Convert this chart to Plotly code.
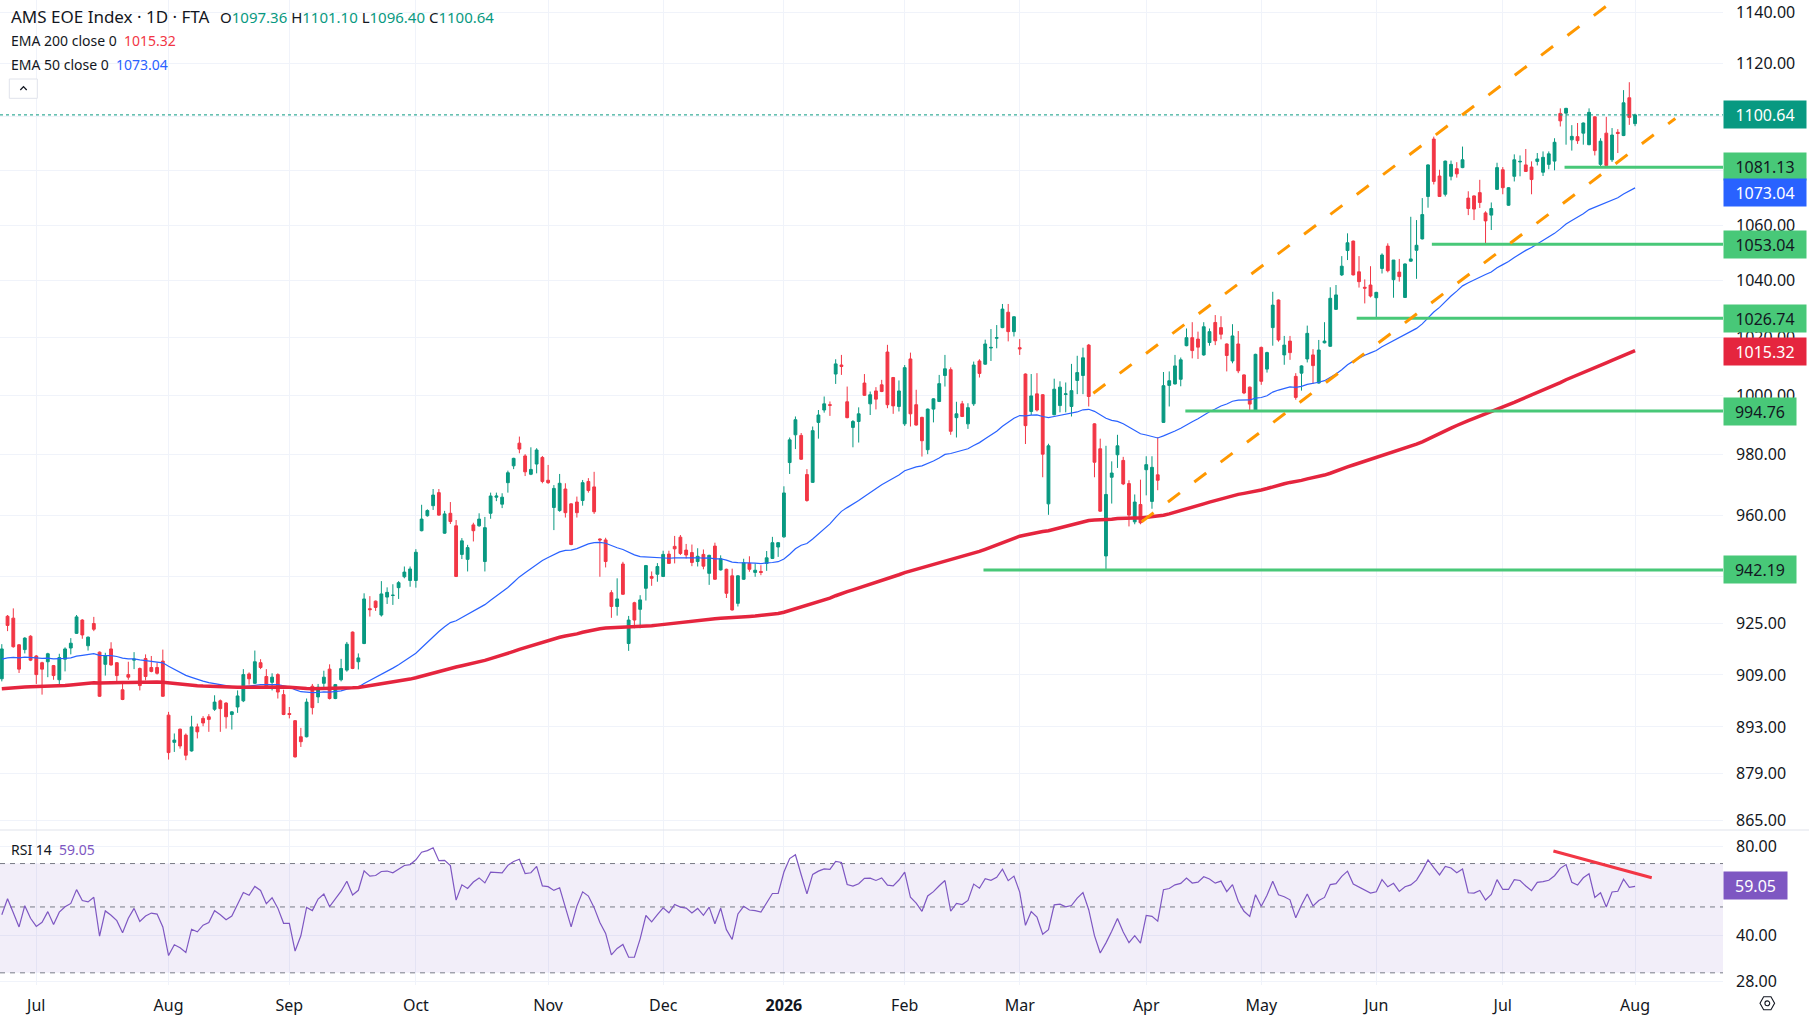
import math
import pandas as pd
import plotly.graph_objects as go

# ---------------------------------------------------------------- data
HOLIDAYS = ["2025-12-25", "2025-12-26", "2026-01-01", "2026-04-03", "2026-04-06", "2026-05-01"]
trading_days = [d for d in pd.bdate_range("2025-06-23", "2026-08-03")
                if d.strftime("%Y-%m-%d") not in HOLIDAYS]
dates = [d.strftime("%Y-%m-%d") + " 12:00" for d in trading_days]

opens = [
    907.8, 927.4, 926.8, 918.4, 916.9, 921.1, 914.9, 912.8, 913.1, 911.9,
    907.5, 913.9, 917.4, 922.0, 926.2, 918.1, 925.1, 916.1, 912.3, 917.1,
    912.8, 904.4, 909.1, 913.6, 911.0, 914.1, 911.3, 911.3, 913.3, 896.6,
    888.3, 892.3, 890.5, 885.7, 893.0, 895.6, 896.1, 898.4, 901.0, 900.3,
    896.8, 899.1, 901.0, 909.3, 906.4, 912.8, 908.5, 906.7, 909.1, 902.9,
    897.1, 894.9, 890.0, 890.0, 905.5, 902.2, 906.4, 910.8, 901.7, 907.5,
    910.5, 922.4, 913.1,
    918.8, 929.8, 932.2, 927.8, 933.5, 934.0, 936.5, 940.0, 938.8, 938.8,
    954.9, 959.8, 963.1, 967.4, 954.1, 960.6, 956.5, 947.2, 945.6, 956.8,
    956.5, 944.9, 960.6, 965.9, 963.6, 970.7, 976.3, 983.9, 979.6, 973.5,
    976.9, 979.1, 971.5, 962.5, 961.5, 968.6, 963.7, 964.3, 964.8, 971.1,
    969.3, 952.2, 951.9, 934.9, 930.5, 944.1, 918.8, 931.7, 929.6, 936.3,
    940.1, 940.8, 940.1, 947.3, 949.8, 952.8, 948.6, 947.8, 944.9,
    947.2, 941.1, 949.9, 942.2, 942.4, 940.3, 931.5, 939.2, 944.3, 941.4,
    941.7, 944.3, 945.9, 949.6, 952.9, 977.4, 986.7, 986.5, 973.4, 970.8,
    990.9, 995.1, 996.9, 1007.4, 1010.5, 997.9, 989.2, 991.2, 1004.3, 997.2,
    1001.6, 1003.7, 1015.0, 1006.2, 996.3, 990.4, 1012.6, 996.9, 992.6, 981.7,
    995.4, 998.0, 1006.9, 1008.9, 992.5, 997.2, 990.4, 997.2, 1011.9, 1010.8,
    1016.4, 1019.8, 1023.5, 1028.9, 1022.1, 1016.5, 1007.4, 994.6, 1000.6, 1000.3,
    963.7,
    993.5, 996.6, 1000.4, 996.3, 1005.2, 1006.9, 1017.4, 990.4, 982.0, 946.7,
    972.5, 980.0, 978.1, 970.4, 957.8, 963.5, 975.0, 964.5, 973.3, 990.9,
    1003.5, 1004.0, 1005.6, 1017.2, 1020.0, 1019.5, 1014.0, 1018.3, 1025.3, 1023.5,
    1017.8, 1011.9, 1017.8, 1007.1, 1002.9, 995.1, 1016.6, 1009.1, 1023.5, 1033.2,
    1014.0, 1018.8, 1006.6, 1007.7, 1012.6, 1014.0, 1004.3, 1018.2, 1017.0, 1029.9,
    1042.1, 1050.8, 1054.2, 1043.2, 1037.7, 1038.5, 1034.0, 1044.4, 1052.4, 1040.4,
    1043.1,
    1034.1, 1047.0, 1050.9, 1055.0, 1070.4, 1091.6, 1077.9, 1071.2, 1077.8, 1080.6,
    1081.0, 1069.8, 1070.6, 1071.8, 1064.4, 1063.6, 1073.0, 1080.2, 1067.2, 1077.8,
    1083.1, 1082.0, 1081.2, 1083.3, 1079.3, 1082.2, 1083.4, 1101.2, 1101.3, 1091.3,
    1092.5, 1093.8, 1089.5, 1099.9, 1082.2, 1093.8, 1083.9, 1094.1, 1092.9, 1107.1,
    1097.36,
]
highs = [
    918.6, 927.8, 929.9, 918.6, 920.8, 921.4, 915.2, 913.1, 915.9, 912.1,
    915.6, 917.6, 920.5, 927.8, 926.5, 921.0, 927.2, 916.3, 915.9, 919.2,
    913.0, 906.2, 913.1, 916.1, 911.3, 915.4, 914.9, 912.8, 916.9, 897.6,
    891.0, 892.5, 891.0, 896.4, 894.0, 896.3, 896.9, 902.7, 901.4, 900.6,
    897.8, 904.2, 910.8, 909.8, 916.6, 913.9, 910.8, 909.5, 909.5, 904.4,
    899.1, 895.1, 892.7, 901.7, 906.2, 906.2, 910.3, 912.3, 906.2, 914.0,
    919.3, 922.6, 915.7,
    934.7, 933.8, 932.4, 938.6, 936.6, 937.6, 938.6, 943.3, 943.3, 948.9,
    963.4, 961.9, 968.6, 968.6, 961.4, 964.3, 958.4, 952.5, 950.3, 957.5,
    960.6, 959.4, 967.4, 967.4, 967.2, 974.7, 979.0, 986.1, 980.2, 982.5,
    982.2, 979.6, 976.6, 969.9, 973.6, 970.5, 963.9, 966.1, 971.6, 972.2,
    974.3, 952.4, 952.6, 935.7, 939.5, 944.8, 927.5, 932.0, 934.1, 943.8,
    941.7, 944.4, 948.4, 948.4, 953.2, 953.5, 950.6, 950.4, 949.2,
    948.8, 947.1, 951.0, 946.9, 942.6, 942.6, 940.5, 945.8, 946.6, 944.3,
    943.7, 948.3, 952.9, 951.2, 969.5, 985.8, 992.9, 987.3, 975.2, 989.5,
    995.1, 999.7, 998.0, 1012.5, 1014.0, 1003.1, 991.7, 996.0, 1007.4, 1001.4,
    1002.9, 1005.4, 1017.5, 1006.4, 1005.2, 1010.5, 1014.8, 1002.0, 992.8, 995.6,
    999.1, 1007.1, 1014.0, 1009.7, 997.9, 998.2, 997.4, 1011.7, 1012.5, 1019.3,
    1023.0, 1024.4, 1031.8, 1031.8, 1027.5, 1019.5, 1007.6, 1007.4, 1007.7, 1000.5,
    983.7,
    1005.8, 1004.9, 1004.5, 1010.9, 1013.7, 1016.5, 1017.8, 990.6, 985.4, 983.0,
    977.8, 986.7, 979.3, 971.5, 966.8, 971.7, 979.5, 979.5, 985.9, 1008.1,
    1008.3, 1014.0, 1013.1, 1023.2, 1025.4, 1022.1, 1025.4, 1023.2, 1027.9, 1027.5,
    1018.0, 1024.7, 1022.3, 1007.3, 1003.1, 1014.4, 1016.9, 1015.1, 1036.1, 1033.4,
    1020.6, 1020.6, 1007.7, 1010.4, 1024.2, 1016.0, 1019.2, 1025.4, 1037.7, 1038.5,
    1048.8, 1057.0, 1054.4, 1048.8, 1040.5, 1045.2, 1036.1, 1049.8, 1053.4, 1047.4,
    1047.8,
    1046.2, 1063.0, 1061.8, 1069.8, 1082.2, 1092.5, 1080.2, 1083.6, 1083.6, 1083.0,
    1088.8, 1072.3, 1070.8, 1076.5, 1065.0, 1068.2, 1082.8, 1081.2, 1073.8, 1085.9,
    1085.5, 1087.9, 1083.3, 1086.4, 1087.0, 1087.0, 1091.9, 1103.1, 1103.3, 1096.8,
    1097.6, 1097.8, 1103.1, 1100.1, 1091.9, 1099.9, 1095.7, 1095.3, 1110.0, 1113.0,
    1101.10,
]
lows = [
    907.0, 922.7, 917.5, 909.6, 915.7, 913.3, 906.2, 902.9, 908.3, 907.5,
    905.4, 910.1, 915.4, 921.8, 920.3, 916.6, 922.7, 902.2, 908.8, 911.9,
    906.7, 901.2, 907.5, 910.8, 904.2, 907.3, 909.8, 909.1, 902.2, 883.1,
    885.4, 886.4, 882.9, 885.5, 889.5, 893.2, 891.5, 897.9, 891.5, 892.5,
    892.2, 897.3, 900.6, 906.0, 906.2, 910.8, 905.2, 904.2, 901.7, 896.6,
    895.6, 883.7, 886.9, 889.8, 896.8, 900.3, 905.2, 901.4, 901.5, 907.0,
    910.0, 910.8, 910.7,
    918.6, 927.3, 929.1, 927.3, 931.3, 931.0, 932.9, 939.5, 936.8, 936.5,
    954.7, 959.5, 961.7, 959.8, 953.9, 957.1, 939.9, 945.7, 941.7, 951.4,
    956.2, 941.7, 958.8, 964.6, 962.3, 967.4, 975.2, 980.5, 972.9, 973.2,
    973.8, 970.5, 970.3, 955.1, 961.1, 959.2, 950.2, 959.2, 963.1, 967.4,
    960.4, 940.0, 943.0, 926.9, 927.6, 934.2, 916.5, 923.6, 923.6, 932.4,
    937.1, 938.4, 939.9, 944.1, 944.3, 947.0, 945.9, 943.4, 943.3,
    942.4, 937.4, 939.0, 942.0, 933.2, 929.2, 930.5, 939.0, 941.6, 940.0,
    940.5, 941.9, 945.7, 946.4, 952.6, 973.6, 981.9, 978.3, 964.4, 970.6,
    985.4, 994.2, 993.1, 1004.0, 1007.1, 992.3, 982.5, 984.1, 999.9, 993.4,
    995.3, 1001.2, 995.7, 993.8, 994.6, 989.7, 989.5, 989.8, 979.4, 980.2,
    990.9, 997.8, 1003.1, 986.7, 985.8, 992.7, 988.7, 996.5, 1006.2, 1010.6,
    1011.9, 1016.3, 1023.3, 1018.7, 1020.4, 1014.0, 983.6, 993.4, 994.6, 972.5,
    960.1,
    993.3, 994.3, 994.3, 992.9, 1000.5, 1000.5, 996.3, 972.5, 961.1, 942.19,
    963.8, 975.6, 969.9, 956.3, 957.0, 957.0, 966.5, 962.1, 968.2, 990.7,
    996.3, 1003.8, 1003.2, 1017.0, 1012.8, 1012.6, 1013.7, 1017.2, 1017.4, 1019.4,
    1008.3, 1011.1, 1007.7, 1000.5, 995.1, 994.76, 1003.7, 1007.9, 1017.2, 1018.6,
    1010.6, 1012.3, 998.6, 1001.7, 1011.4, 1004.0, 1004.1, 1018.0, 1016.8, 1029.7,
    1041.7, 1047.4, 1041.9, 1037.6, 1032.0, 1034.1, 1026.74, 1042.6, 1043.0, 1034.0,
    1039.7,
    1033.9, 1046.8, 1040.7, 1054.8, 1066.3, 1074.8, 1070.2, 1070.4, 1076.3, 1077.3,
    1080.8, 1063.6, 1061.8, 1066.2, 1053.04, 1058.2, 1072.8, 1071.2, 1067.0, 1075.9,
    1077.8, 1079.4, 1071.2, 1081.8, 1077.9, 1080.4, 1080.0, 1096.3, 1089.5, 1087.3,
    1089.8, 1089.5, 1089.3, 1085.5, 1081.3, 1081.13, 1083.1, 1086.4, 1092.7, 1096.9,
    1096.40,
]
closes = [
    917.1, 924.5, 917.8, 910.8, 920.5, 913.6, 909.1, 910.8, 915.6, 908.8,
    914.4, 917.1, 918.9, 927.2, 921.5, 920.8, 923.3, 902.4, 914.9, 912.1,
    908.8, 901.4, 908.3, 913.9, 905.7, 908.5, 910.1, 909.5, 902.4, 885.2,
    889.0, 887.2, 884.4, 893.0, 891.5, 894.2, 895.3, 900.6, 898.6, 896.1,
    897.6, 902.5, 909.1, 907.8, 913.1, 911.3, 905.4, 908.3, 903.7, 896.8,
    896.8, 883.9, 888.5, 900.6, 898.9, 905.2, 908.3, 901.7, 906.0, 911.0,
    918.6, 911.0, 914.3,
    932.9, 929.5, 930.2, 934.5, 935.0, 934.1, 938.1, 941.5, 942.5, 947.9,
    958.7, 961.5, 966.6, 960.0, 960.4, 957.9, 940.1, 951.6, 949.4, 954.9,
    958.7, 955.9, 966.3, 966.3, 965.9, 974.0, 978.8, 981.9, 974.3, 975.1,
    981.6, 971.1, 970.7, 968.8, 970.5, 960.8, 950.4, 960.8, 970.7, 968.1,
    961.1, 951.9, 944.9, 930.5, 932.9, 934.4, 926.2, 926.2, 932.6, 943.6,
    939.5, 943.3, 947.2, 944.3, 949.0, 947.5, 947.0, 944.6, 946.6,
    943.4, 946.9, 939.2, 945.8, 934.7, 929.4, 940.3, 944.5, 942.4, 942.1,
    941.4, 946.1, 951.0, 951.0, 967.3, 985.0, 991.8, 978.5, 964.8, 988.1,
    993.4, 997.2, 996.7, 1010.9, 1010.0, 992.5, 991.2, 993.8, 1000.1, 1000.3,
    998.8, 1001.4, 996.9, 996.5, 1001.6, 1009.6, 993.8, 990.0, 984.7, 995.4,
    998.9, 1004.1, 1009.2, 987.9, 993.8, 992.9, 995.9, 1010.5, 1007.6, 1017.8,
    1016.6, 1020.0, 1030.0, 1022.1, 1027.3, 1016.1, 989.8, 999.9, 995.1, 980.2,
    983.0,
    1002.2, 1002.9, 1000.6, 1001.7, 1007.9, 1013.0, 999.7, 977.5, 961.3, 966.8,
    973.9, 983.0, 970.3, 960.0, 964.3, 957.5, 976.7, 975.8, 971.5, 1003.4,
    1005.1, 1010.2, 1012.3, 1020.0, 1015.5, 1016.7, 1023.8, 1022.1, 1018.9, 1021.2,
    1013.8, 1020.6, 1008.5, 1000.9, 997.1, 1014.2, 1004.9, 1014.8, 1031.4, 1019.2,
    1017.4, 1014.8, 999.4, 1010.2, 1021.5, 1010.3, 1015.7, 1018.8, 1033.8, 1035.0,
    1045.2, 1053.6, 1042.1, 1039.7, 1037.4, 1034.6, 1035.9, 1049.2, 1043.6, 1047.4,
    1041.5,
    1046.0, 1047.8, 1052.7, 1063.8, 1082.0, 1075.9, 1070.4, 1083.4, 1082.2, 1078.7,
    1083.9, 1066.0, 1065.8, 1068.2, 1061.5, 1066.0, 1081.0, 1073.6, 1073.6, 1083.9,
    1083.3, 1079.6, 1076.6, 1084.2, 1084.8, 1086.1, 1090.4, 1098.4, 1103.1, 1092.6,
    1091.0, 1097.6, 1101.6, 1087.3, 1090.8, 1081.8, 1093.1, 1093.7, 1105.2, 1099.7,
    1100.64,
]

# indicator state at the first visible bar
EMA200_START = 904.7
EMA50_START = 913.9
RSI_AVG_GAIN_START = 2.0
RSI_AVG_LOSS_START = 2.25

# values printed on the chart
LAST = dict(o=1097.36, h=1101.10, l=1096.40, c=1100.64)
EMA200_LAST = 1015.32
EMA50_LAST = 1073.04
RSI_LAST = 59.05

# horizontal support drawings: level and start time
support_levels = [1081.13, 1053.04, 1026.74, 994.76, 942.19]
support_starts = ["2026-07-16 05:45", "2026-06-15 04:00", "2026-05-27 02:24",
                  "2026-04-14 07:12", "2026-02-20 04:48"]
# channel trend lines (two anchor points each)
channel_upper_x = ["2026-03-19 07:12", "2026-07-27 12:00"]
channel_upper_y = [1000.8, 1142.3]
channel_lower_x = ["2026-03-31 16:48", "2026-08-12 12:00"]
channel_lower_y = [957.8, 1099.3]
# RSI divergence line
rsi_trend_x = ["2026-07-14 07:12", "2026-08-06 09:36"]
rsi_trend_y = [77.2, 62.7]

month_tick_dates = ["2025-07-01", "2025-08-01", "2025-09-01", "2025-10-01", "2025-11-03",
                    "2025-12-01", "2026-01-02", "2026-02-02", "2026-03-02", "2026-04-01",
                    "2026-05-04", "2026-06-01", "2026-07-01", "2026-08-03"]
month_tick_labels = ["Jul", "Aug", "Sep", "Oct", "Nov", "Dec", "<b>2026</b>", "Feb", "Mar",
                     "Apr", "May", "Jun", "Jul", "Aug"]
price_ticks = [865, 879, 893, 909, 925, 940, 960, 980, 1000, 1020, 1040, 1060, 1080, 1100, 1120, 1140]
price_ticks_hidden = [940, 1080, 1100]   # fully covered by price tags in the reference
rsi_ticks = [28, 40, 80]
rsi_levels = [70, 50, 30]

# ---------------------------------------------------------------- indicators
highs = [max(h, o, c) for h, o, c in zip(highs, opens, closes)]
lows = [min(l, o, c) for l, o, c in zip(lows, opens, closes)]


def ema(vals, n, start):
    a = 2.0 / (n + 1)
    out = [start]
    for v in vals[1:]:
        out.append(a * v + (1 - a) * out[-1])
    return out


ema200 = ema(closes, 200, EMA200_START)
ema50 = ema(closes, 50, EMA50_START)

ag, al = RSI_AVG_GAIN_START, RSI_AVG_LOSS_START
rsi = [100 - 100 / (1 + ag / al)]
for i in range(1, len(closes)):
    ch = closes[i] - closes[i - 1]
    ag = (ag * 13 + max(ch, 0)) / 14
    al = (al * 13 + max(-ch, 0)) / 14
    rsi.append(100 - 100 / (1 + ag / al))

# ---------------------------------------------------------------- style
UP = "#089981"
DOWN = "#F23645"
EMA200_C = "#E5253E"
EMA50_C = "#2962FF"
GREEN = "#48C878"
ORANGE = "#FF9800"
PURPLE = "#7E57C2"
GRID = "#F0F3FA"
TXT = "#131722"
FONT = "Noto Sans"

W, H = 1809, 1027
PW, PH = 1723, 985          # plot area in pixels
SPLIT = 830                 # pane separator (pixels from top)
X_START, X_END = "2025-06-23 04:30", "2026-08-24 19:00"
X_FAR = "2026-08-31 12:00"


def px(x):
    return x / PW


def py(y):
    return 1 - y / PH


fig = go.Figure()

# RSI pane
fig.add_trace(go.Scatter(x=[X_START, X_END, X_END, X_START, X_START], y=[30, 30, 70, 70, 30],
                         fill="toself", fillcolor="rgba(126,87,194,0.1)", mode="lines",
                         line=dict(width=0, color="rgba(0,0,0,0)"), yaxis="y2", hoverinfo="skip"))
for lv in rsi_levels:
    fig.add_trace(go.Scatter(x=[X_START, X_END], y=[lv, lv], mode="lines", yaxis="y2",
                             line=dict(color="#787B86", width=1, dash="5px,5px"), hoverinfo="skip"))
fig.add_trace(go.Scatter(x=dates, y=rsi, mode="lines", yaxis="y2",
                         line=dict(color=PURPLE, width=1.2)))
fig.add_trace(go.Scatter(x=rsi_trend_x, y=rsi_trend_y, mode="lines", yaxis="y2",
                         line=dict(color=DOWN, width=3)))

# price pane
fig.add_trace(go.Candlestick(x=dates, open=opens, high=highs, low=lows, close=closes,
                             increasing=dict(line=dict(color=UP, width=1), fillcolor=UP),
                             decreasing=dict(line=dict(color=DOWN, width=1), fillcolor=DOWN),
                             whiskerwidth=0, yaxis="y"))
fig.add_trace(go.Scatter(x=dates, y=ema50, mode="lines", line=dict(color=EMA50_C, width=1.2), yaxis="y"))
fig.add_trace(go.Scatter(x=dates, y=ema200, mode="lines", line=dict(color=EMA200_C, width=3.5), yaxis="y"))
fig.add_trace(go.Scatter(x=[X_START, X_FAR], y=[LAST["c"], LAST["c"]], mode="lines",
                         line=dict(color=UP, width=1, dash="dot"), yaxis="y"))
for lv, st in zip(support_levels, support_starts):
    fig.add_trace(go.Scatter(x=[st, X_FAR], y=[lv, lv], mode="lines",
                             line=dict(color=GREEN, width=3), yaxis="y"))
for xs, ys in ((channel_upper_x, channel_upper_y), (channel_lower_x, channel_lower_y)):
    fig.add_trace(go.Scatter(x=xs, y=ys, mode="lines",
                             line=dict(color=ORANGE, width=3, dash="15px,18px"), yaxis="y"))

# ---------------------------------------------------------------- annotations
ann = []
ann.append(dict(xref="paper", yref="paper", x=px(9), y=py(17), xanchor="left", yanchor="middle",
                text="AMS EOE Index · 1D · FTA", showarrow=False, font=dict(size=17, color=TXT)))
ann.append(dict(xref="paper", yref="paper", x=px(218), y=py(17), xanchor="left", yanchor="middle",
                text=("O<span style='color:%s'>%.2f</span> H<span style='color:%s'>%.2f</span> "
                      "L<span style='color:%s'>%.2f</span> C<span style='color:%s'>%.2f</span>")
                % (UP, LAST["o"], UP, LAST["h"], UP, LAST["l"], UP, LAST["c"]),
                showarrow=False, font=dict(size=15, color=TXT)))
ann.append(dict(xref="paper", yref="paper", x=px(9), y=py(41), xanchor="left", yanchor="middle",
                text="EMA 200 close 0&nbsp;&nbsp;<span style='color:%s'>%.2f</span>" % (DOWN, EMA200_LAST),
                showarrow=False, font=dict(size=14, color=TXT)))
ann.append(dict(xref="paper", yref="paper", x=px(9), y=py(64), xanchor="left", yanchor="middle",
                text="EMA 50 close 0&nbsp;&nbsp;<span style='color:%s'>%.2f</span>" % (EMA50_C, EMA50_LAST),
                showarrow=False, font=dict(size=14, color=TXT)))
ann.append(dict(xref="paper", yref="paper", x=px(9), y=py(849), xanchor="left", yanchor="middle",
                text="RSI 14&nbsp;&nbsp;<span style='color:%s'>%.2f</span>" % (PURPLE, RSI_LAST),
                showarrow=False, font=dict(size=14, color=TXT)))

tags = [
    (LAST["c"], UP, "white", 0, 76, "y"),
    (support_levels[0], GREEN, TXT, 1, 76, "y"),
    (EMA50_LAST, EMA50_C, "white", -3, 76, "y"),
    (support_levels[1], GREEN, TXT, 0, 76, "y"),
    (support_levels[2], GREEN, TXT, 0, 76, "y"),
    (EMA200_LAST, EMA200_C, "white", 0, 76, "y"),
    (support_levels[3], GREEN, TXT, 0, 66, "y"),
    (support_levels[4], GREEN, TXT, 0, 66, "y"),
    (RSI_LAST, PURPLE, "white", 0, 57, "y2"),
]
for val, bg, fg, ys, w, yr in tags:
    ann.append(dict(xref="paper", yref=yr, x=1.0, y=math.log10(val), xanchor="left", yanchor="middle",
                    text="%.2f" % val, showarrow=False, bgcolor=bg, width=w, height=21, borderpad=3,
                    align="center", yshift=ys, font=dict(size=16, color=fg)))

# ---------------------------------------------------------------- decorative shapes
shapes = [
    dict(type="line", xref="paper", yref="paper", x0=0, x1=px(W), y0=py(SPLIT), y1=py(SPLIT),
         line=dict(color="#E0E3EB", width=1)),
    dict(type="rect", xref="paper", yref="paper", x0=px(9.3), x1=px(37.3), y0=py(98.3), y1=py(79),
         line=dict(color="#E0E3EB", width=1), fillcolor="white"),
    dict(type="path", xref="paper", yref="paper",
         path="M %f %f L %f %f L %f %f" % (px(20.3), py(90), px(23.5), py(86.6), px(26.7), py(90)),
         line=dict(color=TXT, width=1.3)),
]
cx, cy, hw, hh = 1767.3, 1003.3, 7.3, 6.5
hexpts = [(cx - hw, cy), (cx - hw / 2, cy - hh), (cx + hw / 2, cy - hh), (cx + hw, cy),
          (cx + hw / 2, cy + hh), (cx - hw / 2, cy + hh)]
shapes.append(dict(type="path", xref="paper", yref="paper",
                   path="M " + " L ".join("%f %f" % (px(a), py(b)) for a, b in hexpts) + " Z",
                   line=dict(color=TXT, width=1.1)))
shapes.append(dict(type="circle", xref="paper", yref="paper", x0=px(cx - 2.4), x1=px(cx + 2.4),
                   y0=py(cy + 2.4), y1=py(cy - 2.4), line=dict(color=TXT, width=1.1)))

dom = 1 - SPLIT / PH
fig.update_layout(
    width=W, height=H, margin=dict(l=0, r=W - PW, t=0, b=H - PH),
    paper_bgcolor="white", plot_bgcolor="white", showlegend=False, hovermode=False,
    font=dict(family=FONT, color=TXT, size=16),
    annotations=ann, shapes=shapes,
    xaxis=dict(type="date", range=[X_START, X_END], anchor="y2", domain=[0, 1],
               rangebreaks=[dict(bounds=["sat", "mon"]), dict(values=HOLIDAYS)],
               tickvals=[d + " 12:00" for d in month_tick_dates], ticktext=month_tick_labels,
               showgrid=True, gridcolor=GRID, gridwidth=1, zeroline=False, showline=False,
               ticks="", tickfont=dict(size=16, color=TXT), ticklabelstandoff=9,
               rangeslider=dict(visible=False)),
    yaxis=dict(type="log", range=[math.log10(862.1), math.log10(1144.7)], domain=[dom, 1],
               side="right", anchor="x", tickvals=price_ticks,
               ticktext=["" if v in price_ticks_hidden else "%.2f" % v for v in price_ticks],
               showgrid=True, gridcolor=GRID, zeroline=False, showline=False, ticks="",
               tickfont=dict(size=16, color=TXT), ticklabelstandoff=12),
    yaxis2=dict(type="log", range=[math.log10(27.3), math.log10(90.8)], domain=[0, dom],
                side="right", anchor="x", tickvals=rsi_ticks, ticktext=["%.2f" % v for v in rsi_ticks],
                showgrid=True, gridcolor=GRID, zeroline=False, showline=False, ticks="",
                tickfont=dict(size=16, color=TXT), ticklabelstandoff=12),
)

fig.write_html("out.html", config=dict(displayModeBar=False),
               post_script="document.body.style.margin='0';document.body.style.overflow='hidden';")
